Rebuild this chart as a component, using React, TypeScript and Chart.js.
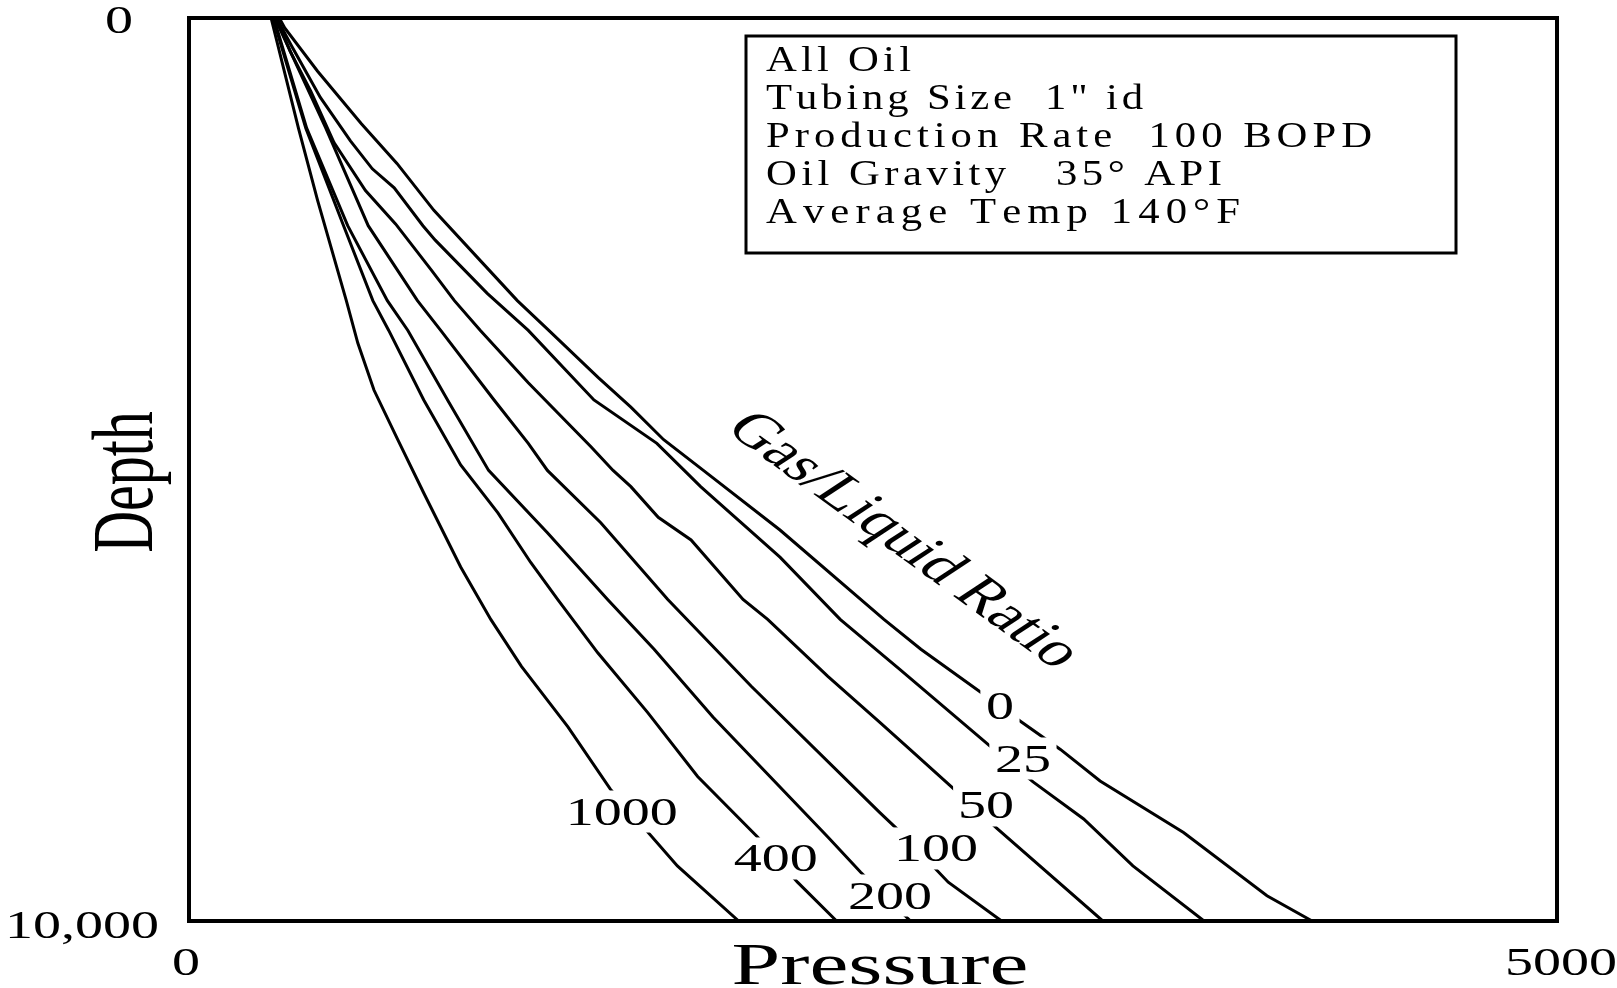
import React, { useEffect, useRef } from "react";
import { Chart, registerables } from "chart.js";

Chart.register(...registerables);

// ---- Data (pressure in psi, depth in ft) ----
const glrLabels = ["0", "25", "50", "100", "200", "400", "1000"];

const depthGlr0 = [0, 110, 590, 1170, 1610, 2130, 2720, 3130, 3460, 3980, 4310, 4670, 5010, 5670, 6660, 6990, 7470, 7790, 8100, 8450, 9020, 9720, 10000];
const pressureGlr0 = [330, 350, 470, 630, 760, 895, 1075, 1200, 1315, 1495, 1615, 1735, 1880, 2160, 2540, 2675, 2895, 3040, 3185, 3330, 3635, 3940, 4105];

const depthGlr25 = [0, 310, 880, 1360, 1670, 1880, 2300, 2460, 3050, 3460, 4230, 4710, 5010, 5190, 5970, 6660, 7220, 8070, 8460, 8870, 9390, 10000];
const pressureGlr25 = [320, 375, 480, 590, 670, 750, 855, 900, 1090, 1240, 1480, 1710, 1810, 1870, 2160, 2380, 2600, 2930, 3085, 3270, 3450, 3710];

const depthGlr50 = [0, 370, 810, 1380, 1910, 2280, 2800, 3130, 3460, 4040, 4750, 5010, 5190, 5530, 5780, 6440, 6660, 7290, 7800, 8100, 8510, 8980, 10000];
const pressureGlr50 = [318, 370, 445, 530, 645, 755, 888, 970, 1065, 1240, 1470, 1550, 1615, 1715, 1835, 2025, 2115, 2335, 2525, 2635, 2785, 2955, 3340];

const depthGlr100 = [0, 1220, 2300, 3130, 3460, 4230, 4710, 5010, 5590, 6440, 7400, 8800, 9030, 9570, 10000];
const pressureGlr100 = [314, 500, 655, 835, 920, 1115, 1240, 1310, 1505, 1750, 2055, 2525, 2605, 2775, 2970];

const depthGlr200 = [0, 1220, 2300, 3130, 3460, 4230, 5010, 5700, 6440, 6990, 7740, 9070, 9460, 10000];
const pressureGlr200 = [310, 430, 580, 725, 800, 945, 1095, 1310, 1530, 1700, 1915, 2335, 2455, 2637];

const depthGlr400 = [0, 1220, 2300, 3130, 3460, 4230, 4950, 5480, 6030, 6440, 7030, 7690, 8400, 9070, 9570, 10000];
const pressureGlr400 = [307, 427, 565, 672, 730, 858, 993, 1129, 1249, 1348, 1494, 1676, 1859, 2078, 2224, 2367];

const depthGlr1000 = [0, 1220, 2020, 3130, 3600, 4120, 4670, 5260, 6080, 6660, 7180, 7850, 8540, 9390, 10000];
const pressureGlr1000 = [300, 400, 470, 575, 617, 676, 763, 858, 993, 1103, 1215, 1385, 1540, 1785, 2009];

// curve label anchors (pressure, depth) for the GLR numbers
const labelPressure = [2964, 3048, 2913, 2730, 2562, 2145, 1582];
const labelDepth = [7608, 8195, 8715, 9191, 9712, 9302, 8782];

const xTickValues = [0, 5000];
const xTickLabels = ["0", "5000"];
const yTickValues = [0, 10000];
const yTickLabels = ["0", "10,000"];

const infoLines = [
  "All Oil",
  "Tubing Size  1\" id",
  "Production Rate  100 BOPD",
  "Oil Gravity   35° API",
  "Average Temp 140°F",
];

const xTitle = "Pressure";
const yTitle = "Depth";
const curveTitle = "Gas/Liquid Ratio";

// ---- Layout / style ----
const W = 1617;
const H = 988;
const SERIF = '"Liberation Serif", "Times New Roman", Times, serif';
const NUM_SIZE = 40;
const NUM_SX = 1.4;
const infoBox = { x: 746, y: 36, w: 710, h: 217 };
const infoTextX = 766;
const infoBaselines = [71, 109, 147, 185, 223];
const infoWidths = [145, 377, 606, 456, 474];

function drawScaled(
  ctx: CanvasRenderingContext2D,
  text: string,
  x: number,
  y: number,
  size: number,
  sx: number,
  align: CanvasTextAlign
) {
  ctx.save();
  ctx.font = `${size}px ${SERIF}`;
  ctx.textAlign = align;
  ctx.textBaseline = "alphabetic";
  ctx.fillStyle = "#000";
  ctx.translate(x, y);
  ctx.scale(sx, 1);
  ctx.fillText(text, 0, 0);
  ctx.restore();
}

// draws text with a mild horizontal stretch plus letter spacing to fill a width
function drawSpaced(
  ctx: CanvasRenderingContext2D,
  text: string,
  x: number,
  y: number,
  size: number,
  sx: number,
  width: number
) {
  ctx.save();
  ctx.font = `${size}px ${SERIF}`;
  ctx.textAlign = "left";
  ctx.textBaseline = "alphabetic";
  ctx.fillStyle = "#000";
  const chars = Array.from(text);
  const adv = chars.map((c) => ctx.measureText(c).width * sx);
  const total = adv.reduce((a, b) => a + b, 0);
  const gap = chars.length > 1 ? Math.max(0, (width - total) / (chars.length - 1)) : 0;
  let cx = x;
  chars.forEach((c, i) => {
    ctx.save();
    ctx.translate(cx, y);
    ctx.scale(sx, 1);
    ctx.fillText(c, 0, 0);
    ctx.restore();
    cx += adv[i] + gap;
  });
  ctx.restore();
}

const decorPlugin = {
  id: "decor",
  afterDatasetsDraw(chart: any) {
    const ctx: CanvasRenderingContext2D = chart.ctx;
    const xs = chart.scales.x;
    const ys = chart.scales.y;

    // GLR labels with white backing
    glrLabels.forEach((lab, i) => {
      const cx = xs.getPixelForValue(labelPressure[i]);
      const cy = ys.getPixelForValue(labelDepth[i]);
      ctx.save();
      ctx.font = `${NUM_SIZE}px ${SERIF}`;
      const m = ctx.measureText(lab);
      const inkW = (m.actualBoundingBoxLeft + m.actualBoundingBoxRight) * NUM_SX;
      const capH = NUM_SIZE * 0.676;
      const base = cy + capH / 2;
      ctx.fillStyle = "#fff";
      ctx.fillRect(cx - inkW / 2 - 7, base - capH - 7, inkW + 14, capH + 15);
      ctx.restore();
      drawScaled(ctx, lab, cx, base, NUM_SIZE, NUM_SX, "center");
    });

    // Rotated "Gas/Liquid Ratio"
    ctx.save();
    ctx.font = `48px ${SERIF}`;
    ctx.fillStyle = "#000";
    ctx.textAlign = "center";
    ctx.textBaseline = "middle";
    ctx.translate(903, 541);
    ctx.scale(1.45, 1);
    ctx.rotate((46.5 * Math.PI) / 180);
    ctx.fillText(curveTitle, 0, 0);
    ctx.restore();

    // Info box
    ctx.save();
    ctx.fillStyle = "#fff";
    ctx.fillRect(infoBox.x, infoBox.y, infoBox.w, infoBox.h);
    ctx.strokeStyle = "#000";
    ctx.lineWidth = 3;
    ctx.strokeRect(infoBox.x, infoBox.y, infoBox.w, infoBox.h);
    ctx.restore();
    infoLines.forEach((t, i) => drawSpaced(ctx, t, infoTextX, infoBaselines[i], 35, 1.22, infoWidths[i]));
  },
  afterDraw(chart: any) {
    const ctx: CanvasRenderingContext2D = chart.ctx;
    const a = chart.chartArea;
    const xs = chart.scales.x;
    const ys = chart.scales.y;

    // plot frame
    ctx.save();
    ctx.strokeStyle = "#000";
    ctx.lineWidth = 4;
    ctx.strokeRect(a.left, a.top, a.right - a.left, a.bottom - a.top);
    ctx.restore();

    // x tick labels
    xTickValues.forEach((v, i) => {
      const px = xs.getPixelForValue(v);
      const dx = i === 0 ? -3 : 4;
      drawScaled(ctx, xTickLabels[i], px + dx, a.bottom + 54, NUM_SIZE, NUM_SX, "center");
    });
    // y tick labels
    yTickValues.forEach((v, i) => {
      const py = ys.getPixelForValue(v);
      const rightEdge = i === 0 ? a.left - 56 : a.left - 30;
      drawScaled(ctx, yTickLabels[i], rightEdge, py + (i === 0 ? 15 : 17), NUM_SIZE, NUM_SX, "right");
    });

    // axis titles
    drawScaled(ctx, xTitle, 880, 984, 60, 1.46, "center");
    ctx.save();
    ctx.font = `58px ${SERIF}`;
    ctx.fillStyle = "#000";
    ctx.textAlign = "center";
    ctx.textBaseline = "alphabetic";
    ctx.translate(152, 482);
    ctx.scale(1.5, 1);
    ctx.rotate(-Math.PI / 2);
    ctx.fillText(yTitle, 0, 0);
    ctx.restore();
  },
};

const series = [
  { p: pressureGlr0, d: depthGlr0 },
  { p: pressureGlr25, d: depthGlr25 },
  { p: pressureGlr50, d: depthGlr50 },
  { p: pressureGlr100, d: depthGlr100 },
  { p: pressureGlr200, d: depthGlr200 },
  { p: pressureGlr400, d: depthGlr400 },
  { p: pressureGlr1000, d: depthGlr1000 },
];

export default function App() {
  const ref = useRef<HTMLCanvasElement | null>(null);

  useEffect(() => {
    if (!ref.current) return;
    const chart = new Chart(ref.current, {
      type: "scatter",
      data: {
        datasets: series.map((s, i) => ({
          label: "GLR " + glrLabels[i],
          data: s.p.map((p, k) => ({ x: p, y: s.d[k] })),
          showLine: true,
          borderColor: "#000",
          backgroundColor: "#000",
          borderWidth: 3,
          pointRadius: 0,
          tension: 0,
          fill: false,
        })),
      },
      options: {
        responsive: false,
        animation: false,
        devicePixelRatio: 1,
        layout: { padding: { left: 189, top: 18, right: 60, bottom: 67 } },
        plugins: { legend: { display: false }, tooltip: { enabled: false } },
        scales: {
          x: { type: "linear", min: 0, max: 5000, display: false },
          y: { type: "linear", min: 0, max: 10000, reverse: true, display: false },
        },
      },
      plugins: [decorPlugin],
    } as any);
    return () => chart.destroy();
  }, []);

  return (
    <div style={{ position: "fixed", left: 0, top: 0, width: W, height: H, background: "#fff" }}>
      <canvas ref={ref} width={W} height={H} style={{ width: W, height: H, display: "block" }} />
    </div>
  );
}
